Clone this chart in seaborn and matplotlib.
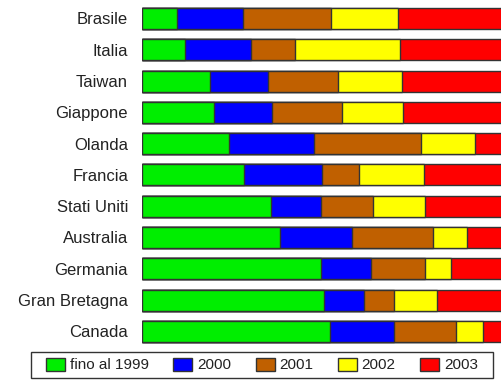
import matplotlib
matplotlib.use("Agg")
import matplotlib.pyplot as plt
import seaborn as sns
import pandas as pd
import numpy as np
from matplotlib.patches import Patch, Rectangle

countries = ["Brasile", "Italia", "Taiwan", "Giappone", "Olanda", "Francia",
             "Stati Uniti", "Australia", "Germania", "Gran Bretagna", "Canada"]
series_names = ["fino al 1999", "2000", "2001", "2002", "2003"]
fino_1999 = [9.6, 12.0, 18.9, 20.1, 24.2, 28.3, 35.7, 38.4, 49.8, 50.6, 52.3]
y2000 = [18.5, 18.3, 16.1, 16.1, 23.7, 21.6, 13.9, 20.0, 13.9, 11.1, 17.6]
y2001 = [24.3, 12.3, 19.4, 19.4, 29.5, 10.5, 14.6, 22.4, 15.0, 8.4, 17.2]
y2002 = [18.6, 29.1, 17.7, 16.9, 15.0, 17.8, 14.4, 9.5, 7.2, 11.7, 7.7]
y2003 = [29.0, 28.3, 27.9, 27.5, 7.6, 21.8, 21.4, 9.7, 14.1, 18.2, 5.2]
colors = ["#00EE00", "#0000FF", "#C06000", "#FFFF00", "#FF0000"]

sns.set_theme(style="white")
plt.rcParams['font.family'] = ['Liberation Sans', 'DejaVu Sans']

df = pd.DataFrame({"country": countries, "s0": fino_1999, "s1": y2000,
                   "s2": y2001, "s3": y2002, "s4": y2003})
cols = ["s0", "s1", "s2", "s3", "s4"]
cum = df[cols].cumsum(axis=1)

fig = plt.figure(figsize=(5.01, 3.80), dpi=100)
ax = fig.add_axes([142/501, (380-347)/380, 359/501, (347-2.85)/380])

for i in reversed(range(5)):
    d = pd.DataFrame({"country": countries, "val": cum[cols[i]].values})
    sns.barplot(data=d, x="val", y="country", orient="h", color=colors[i],
                saturation=1, edgecolor="#333333", linewidth=1.0,
                width=0.67, ax=ax, order=countries)

ax.set_xlim(0, 99.7)
ax.set_ylim(10.5, -0.5)
ax.set_xlabel("")
ax.set_ylabel("")
ax.set_xticks([])
for s in ax.spines.values():
    s.set_visible(False)
ax.tick_params(axis="y", length=0, pad=10, labelsize=12, labelcolor="#222222")

# legend frame
fig.patches.append(Rectangle((31/501, 2/380), 462/501, 26/380,
                             transform=fig.transFigure, facecolor="white",
                             edgecolor="#333333", linewidth=1.0, zorder=0))

handles = [Patch(facecolor=c, edgecolor="#333333", linewidth=1.0) for c in colors]
leg = fig.legend(handles, series_names, loc="center", ncol=5,
                 bbox_to_anchor=(46/501, 3/380, 432/501, 24/380), mode="expand",
                 frameon=False, fontsize=11, handlelength=1.25, handleheight=0.95,
                 handletextpad=0.3, columnspacing=0.8, borderpad=0.0,
                 borderaxespad=0)
for t in leg.get_texts():
    t.set_color("#222222")

fig.savefig("out.png", dpi=100)
